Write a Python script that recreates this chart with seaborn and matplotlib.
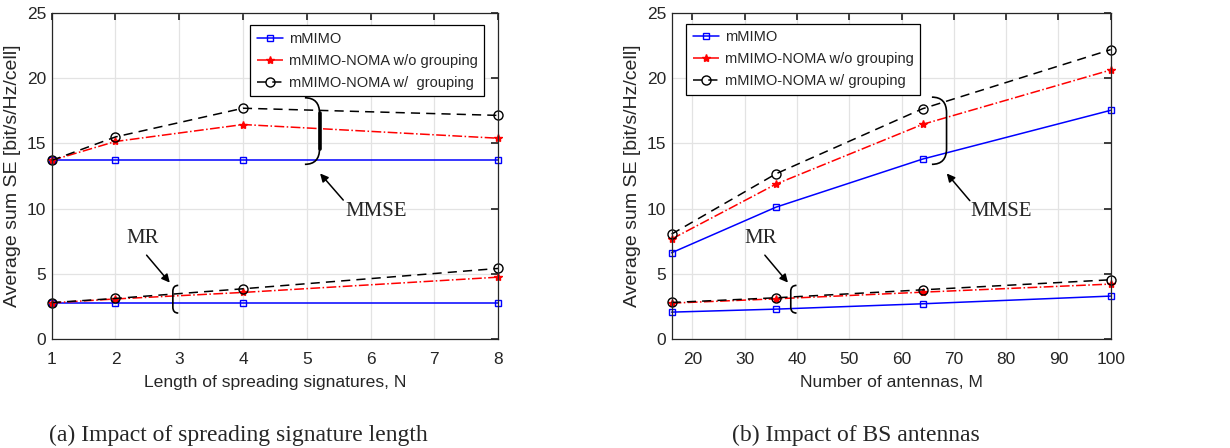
# Average sum SE vs spreading length (a) and number of BS antennas (b)

import numpy as np
import pandas as pd
import seaborn as sns
import matplotlib.pyplot as plt
from matplotlib.path import Path
from matplotlib.patches import PathPatch

sns.set_theme(style="whitegrid")
plt.rcParams['font.family'] = ['Liberation Sans', 'DejaVu Sans']

# (a) spreading signature length
N_vals = [1, 2, 4, 8]
a_mimo_mmse = [13.73, 13.73, 13.73, 13.73]
a_nomawo_mmse = [13.7, 15.15, 16.45, 15.4]
a_nomaw_mmse = [13.7, 15.5, 17.7, 17.15]
a_mimo_mr = [2.8, 2.8, 2.8, 2.8]
a_nomawo_mr = [2.78, 3.08, 3.58, 4.75]
a_nomaw_mr = [2.8, 3.12, 3.86, 5.42]

# (b) number of antennas
M_vals = [16, 36, 64, 100]
b_mimo_mmse = [6.62, 10.12, 13.8, 17.54]
b_nomawo_mmse = [7.67, 11.89, 16.46, 20.63]
b_nomaw_mmse = [8.05, 12.68, 17.66, 22.19]
b_mimo_mr = [2.07, 2.3, 2.71, 3.3]
b_nomawo_mr = [2.76, 3.09, 3.6, 4.22]
b_nomaw_mr = [2.81, 3.17, 3.78, 4.55]

labels_a = ['mMIMO', 'mMIMO-NOMA w/o grouping', 'mMIMO-NOMA w/  grouping']
labels_b = ['mMIMO', 'mMIMO-NOMA w/o grouping', 'mMIMO-NOMA w/ grouping']
styles = [
    dict(color='#0000ff', linestyle='-', marker='s', markersize=5,
         markerfacecolor='none', markeredgecolor='#0000ff', markeredgewidth=1.0),
    dict(color='#ff0000', linestyle='-.', marker='*', markersize=6,
         markerfacecolor='#ff0000', markeredgecolor='#ff0000', markeredgewidth=1.0),
    dict(color='black', linestyle=(0, (6, 4)), marker='o', markersize=6.5,
         markerfacecolor='none', markeredgecolor='black', markeredgewidth=1.0),
]


def brace(ax, x0, x1, ytop, ybot, d, lw=1.2):
    # curly bracket with its ends at x0 and its spine at x1
    verts = [(x0, ytop), (x1, ytop), (x1, ytop - d),
             (x1, ybot + d),
             (x1, ybot), (x0, ybot)]
    codes = [Path.MOVETO, Path.CURVE3, Path.CURVE3,
             Path.LINETO, Path.CURVE3, Path.CURVE3]
    ax.add_patch(PathPatch(Path(verts, codes), fill=False, lw=lw,
                           color='black', zorder=5))


fig = plt.figure(figsize=(12.3, 4.48), dpi=100)
ax1 = fig.add_axes([0.042, 0.243, 0.405 - 0.042, 0.971 - 0.243])
ax2 = fig.add_axes([0.546, 0.243, 0.903 - 0.546, 0.971 - 0.243])
axes = [ax1, ax2]

panels = [
    (ax1, N_vals, [a_mimo_mmse, a_nomawo_mmse, a_nomaw_mmse],
     [a_mimo_mr, a_nomawo_mr, a_nomaw_mr]),
    (ax2, M_vals, [b_mimo_mmse, b_nomawo_mmse, b_nomaw_mmse],
     [b_mimo_mr, b_nomawo_mr, b_nomaw_mr]),
]

handles = {}
for ax, xs, mmse, mr in panels:
    hs = []
    for i in range(3):
        df = pd.DataFrame({'x': xs, 'y': mmse[i]})
        sns.lineplot(data=df, x='x', y='y', ax=ax, linewidth=1.1,
                     clip_on=False, zorder=3, **styles[i])
        hs.append(ax.lines[-1])
        df = pd.DataFrame({'x': xs, 'y': mr[i]})
        sns.lineplot(data=df, x='x', y='y', ax=ax, linewidth=1.1,
                     clip_on=False, zorder=3, **styles[i])
    handles[ax] = hs

ax1.set_xlim(1, 8)
ax1.set_xticks(range(1, 9))
ax1.set_xlabel('Length of spreading signatures, N', fontsize=12.6,
               color='#262626', labelpad=6)
ax2.set_xlim(16, 100)
ax2.set_xticks(range(20, 101, 10))
ax2.set_xlabel('Number of antennas, M', fontsize=12.6, color='#262626',
               labelpad=6)

for ax in axes:
    ax.set_ylim(0, 25)
    ax.set_yticks(range(0, 26, 5))
    ax.set_ylabel('Average sum SE [bit/s/Hz/cell]', fontsize=14,
                  color='#262626', labelpad=4)
    ax.grid(True, color='#e3e3e3', lw=0.9)
    ax.tick_params(direction='in', length=5, labelsize=12.5, colors='#262626',
                   top=True, right=True)
    ax.tick_params(axis='x', pad=9)
    ax.tick_params(axis='y', pad=4)
    for s in ax.spines.values():
        s.set_color('#262626')
        s.set_linewidth(0.9)
        s.set_zorder(4)

leg_kw = dict(fontsize=10.5, frameon=True, fancybox=False, edgecolor='black',
              handlelength=1.8, borderpad=0.45, labelspacing=0.55,
              handletextpad=0.4)
leg1 = ax1.legend(handles[ax1], labels_a, loc='upper right',
                  bbox_to_anchor=(0.985, 0.985), **leg_kw)
leg2 = ax2.legend(handles[ax2], labels_b, loc='upper left',
                  bbox_to_anchor=(0.017, 0.99), **leg_kw)
for leg in (leg1, leg2):
    leg.get_frame().set_linewidth(0.9)
    leg.get_frame().set_alpha(1)
    leg.set_zorder(6)

serif = ['Liberation Serif', 'DejaVu Serif']
arrow = dict(arrowstyle='-|>', color='black', lw=1.1, mutation_scale=12)

# annotations, panel (a)
brace(ax1, 4.97, 5.2, 18.5, 13.4, 1.2)
ax1.plot([5.2, 5.2], [14.6, 17.3], color='black', lw=2.6, zorder=5)
brace(ax1, 2.985, 2.9, 4.12, 2.0, 0.45)
ax1.annotate('', xy=(5.18, 12.86), xytext=(5.6, 10.5), arrowprops=arrow)
ax1.text(6.08, 9.8, 'MMSE', family=serif, fontsize=15, ha='center', va='center')
ax1.annotate('', xy=(2.88, 4.17), xytext=(2.46, 6.6), arrowprops=arrow)
ax1.text(2.42, 7.75, 'MR', family=serif, fontsize=15, ha='center', va='center')

# annotations, panel (b)
brace(ax2, 65.8, 68.6, 18.55, 13.4, 1.2)
brace(ax2, 39.9, 38.8, 4.12, 2.0, 0.45)
ax2.annotate('', xy=(68.3, 12.86), xytext=(73.4, 10.45), arrowprops=arrow)
ax2.text(79.1, 9.8, 'MMSE', family=serif, fontsize=15, ha='center', va='center')
ax2.annotate('', xy=(38.6, 4.17), xytext=(33.5, 6.6), arrowprops=arrow)
ax2.text(33.1, 7.75, 'MR', family=serif, fontsize=15, ha='center', va='center')

fig.text(0.194, 0.029, '(a) Impact of spreading signature length', family=serif,
         fontsize=17, ha='center', va='center')
fig.text(0.696, 0.029, '(b) Impact of BS antennas', family=serif,
         fontsize=17, ha='center', va='center')

fig.savefig('out.png', dpi=100, facecolor='white')
